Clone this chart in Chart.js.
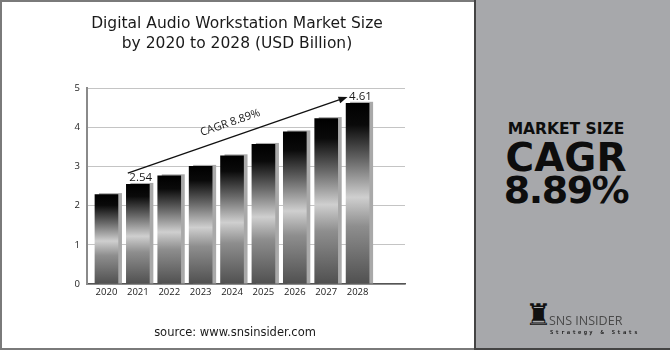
<!DOCTYPE html>
<html>
<head>
<meta charset="utf-8">
<script src="https://cdn.jsdelivr.net/npm/chart.js@4/dist/chart.umd.min.js"></script>
<style>
  html, body { margin: 0; padding: 0; background: #fff; }
  #wrap { position: relative; width: 670px; height: 350px; overflow: hidden; background: #fff; }
  #left { position: absolute; left: 0; top: 0; width: 474px; height: 350px; box-sizing: border-box;
          border-left: 2px solid #7a7a7a; border-top: 2px solid #7a7a7a; border-bottom: 2px solid #7a7a7a; }
  #cv { position: absolute; left: -2px; top: -2px; }
  #title { position: absolute; left: 0; top: 14px; width: 474px; text-align: center;
           font-family: "DejaVu Sans", sans-serif; font-size: 15.5px; line-height: 19.5px; color: #1a1a1a; }
  #source { position: absolute; left: 0; top: 325px; width: 470px; text-align: center;
            font-family: "DejaVu Sans", sans-serif; font-size: 11.5px; color: #1a1a1a; }
  #panel { position: absolute; left: 474px; top: 0; width: 196px; height: 350px; box-sizing: border-box;
           background: #a7a8ab; border-left: 2px solid #444; border-bottom: 2px solid #444; }
  .pt { position: absolute; left: 0; width: 180px; text-align: center; font-family: "DejaVu Sans", sans-serif;
        font-weight: bold; color: #0d0d0d; }
  #ms { top: 120px; font-size: 15.5px; }
  #cagr { top: 135px; font-size: 39px; letter-spacing: 0px; }
  #pct { top: 168px; font-size: 38px; letter-spacing: -1.5px; }
  #logoIcon { position: absolute; left: 49px; top: 297px; font-size: 30px; line-height: 36px; color: #111;
              font-family: "DejaVu Sans", sans-serif; }
  #logoName { position: absolute; left: 73px; top: 312px; font-size: 12.5px; color: #4a4a4a;
              font-family: "Open Sans", sans-serif; letter-spacing: 0px; }
  #logoSub { position: absolute; left: 74px; top: 329px; font-size: 5.5px; color: #222; font-weight: bold;
             font-family: "DejaVu Sans Mono", monospace; letter-spacing: 2.3px; }
</style>
</head>
<body>
<div id="wrap">
  <div id="left">
    <canvas id="cv" width="474" height="350"></canvas>
  </div>
  <div id="title">Digital Audio Workstation Market Size<br>by 2020 to 2028 (USD Billion)</div>
  <div id="source">source: www.snsinsider.com</div>
  <div id="panel">
    <div class="pt" id="ms">MARKET SIZE</div>
    <div class="pt" id="cagr">CAGR</div>
    <div class="pt" id="pct">8.89%</div>
    <div id="logoIcon">♜</div>
    <div id="logoName">SNS INSIDER</div>
    <div id="logoSub">Strategy &amp; Stats</div>
  </div>
</div>
<script>
// ---- data ----
const categories = ['2020', '2021', '2022', '2023', '2024', '2025', '2026', '2027', '2028'];
const marketSize = [2.28, 2.54, 2.76, 3.00, 3.27, 3.56, 3.88, 4.22, 4.61];
const labelledIndices = [1, 8];
const cagrText = 'CAGR 8.89%';
const arrowStart = { x: 0.68, y: 2.83 };
const arrowEnd = { x: 7.68, y: 4.77 };
const yTicks = [0, 1, 2, 3, 4, 5];

const barGradient = (context) => {
  const chart = context.chart;
  if (!chart.chartArea || context.dataIndex === undefined) return '#333';
  const ys = chart.scales.y;
  const top = ys.getPixelForValue(marketSize[context.dataIndex]);
  const bottom = ys.getPixelForValue(0);
  const g = chart.ctx.createLinearGradient(0, top, 0, bottom);
  g.addColorStop(0.0, '#000000');
  g.addColorStop(0.12, '#0a0a0a');
  g.addColorStop(0.32, '#6a6a6a');
  g.addColorStop(0.52, '#cfcfcf');
  g.addColorStop(0.68, '#8e8e8e');
  g.addColorStop(1.0, '#505050');
  return g;
};

const shadowPlugin = {
  id: 'barShadow',
  beforeDatasetsDraw(chart) {
    const ctx = chart.ctx;
    const meta = chart.getDatasetMeta(0);
    ctx.save();
    meta.data.forEach((bar) => {
      const p = bar.getProps(['x', 'y', 'width', 'base'], true);
      ctx.fillStyle = '#a9a9a9';
      ctx.fillRect(p.x - p.width / 2 + 4, p.y - 1.5, p.width, p.base - p.y + 1.5);
    });
    ctx.restore();
  }
};

const annotationPlugin = {
  id: 'annot',
  afterDatasetsDraw(chart) {
    const ctx = chart.ctx;
    const xs = chart.scales.x, ys = chart.scales.y;
    const meta = chart.getDatasetMeta(0);
    ctx.save();
    ctx.font = '11.5px "Open Sans", sans-serif';
    ctx.fillStyle = '#1a1a1a';
    ctx.textAlign = 'left';
    ctx.textBaseline = 'alphabetic';
    labelledIndices.forEach((i) => {
      const bar = meta.data[i];
      const p = bar.getProps(['x', 'y', 'width'], true);
      ctx.fillText(marketSize[i].toFixed(2), p.x - p.width / 2 + 3, p.y - 3);
    });
    const x1 = xs.getPixelForValue(arrowStart.x), y1 = ys.getPixelForValue(arrowStart.y);
    const x2 = xs.getPixelForValue(arrowEnd.x), y2 = ys.getPixelForValue(arrowEnd.y);
    const ang = Math.atan2(y2 - y1, x2 - x1);
    ctx.strokeStyle = '#111';
    ctx.lineWidth = 1.3;
    ctx.beginPath();
    ctx.moveTo(x1, y1);
    ctx.lineTo(x2 - 6 * Math.cos(ang), y2 - 6 * Math.sin(ang));
    ctx.stroke();
    ctx.fillStyle = '#111';
    ctx.beginPath();
    ctx.moveTo(x2, y2);
    ctx.lineTo(x2 - 9 * Math.cos(ang) + 3.5 * Math.sin(ang), y2 - 9 * Math.sin(ang) - 3.5 * Math.cos(ang));
    ctx.lineTo(x2 - 9 * Math.cos(ang) - 3.5 * Math.sin(ang), y2 - 9 * Math.sin(ang) + 3.5 * Math.cos(ang));
    ctx.closePath();
    ctx.fill();
    const mx = (x1 + x2) / 2, my = (y1 + y2) / 2;
    ctx.translate(mx, my);
    ctx.rotate(ang);
    ctx.font = '11px "Open Sans", sans-serif';
    ctx.fillStyle = '#1a1a1a';
    ctx.textAlign = 'center';
    ctx.textBaseline = 'middle';
    ctx.fillText(cagrText, -3, -14);
    ctx.restore();
  }
};

new Chart(document.getElementById('cv'), {
  type: 'bar',
  data: {
    datasets: [{
      data: marketSize.map((v, i) => ({ x: i, y: v })),
      backgroundColor: barGradient,
      borderWidth: 0,
      barThickness: 23
    }]
  },
  options: {
    responsive: false,
    animation: false,
    events: [],
    layout: { padding: { left: 60, right: 69, top: 88, bottom: 46 } },
    plugins: { legend: { display: false }, tooltip: { enabled: false }, title: { display: false } },
    scales: {
      x: {
        type: 'linear',
        offset: false,
        min: -0.62,
        max: 9.51,
        afterBuildTicks: (axis) => { axis.ticks = categories.map((_, i) => ({ value: i })); },
        afterFit: (axis) => { axis.height = 20; },
        ticks: {
          callback: (v) => categories[v] ?? '',
          font: { family: '"Open Sans", sans-serif', size: 9.5 },
          color: '#1a1a1a',
          padding: 3,
          maxRotation: 0,
          autoSkip: false
        },
        grid: { display: false, drawTicks: false, offset: false },
        border: { color: '#555', width: 1.5 }
      },
      y: {
        min: 0,
        max: 5,
        afterBuildTicks: (axis) => { axis.ticks = yTicks.map((v) => ({ value: v })); },
        afterFit: (axis) => { axis.width = 27; },
        ticks: {
          font: { family: '"Open Sans", sans-serif', size: 9.5 },
          color: '#1a1a1a',
          padding: 7
        },
        grid: { color: '#c4c4c4', lineWidth: 1, drawTicks: false },
        border: { color: '#8a8a8a', width: 2 }
      }
    }
  },
  plugins: [shadowPlugin, annotationPlugin]
});
</script>
</body>
</html>
